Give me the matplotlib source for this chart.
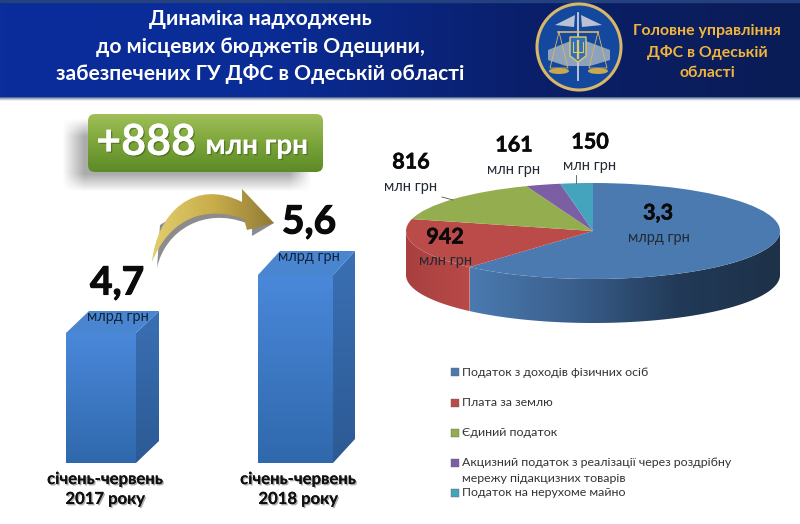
import numpy as np
import matplotlib
matplotlib.use('Agg')
import matplotlib.pyplot as plt
import matplotlib.patheffects as pe
from matplotlib.patches import Polygon, PathPatch, Rectangle, FancyBboxPatch, Ellipse
from matplotlib.path import Path
from matplotlib.colors import LinearSegmentedColormap

plt.rcParams['font.family'] = ['Lato', 'Open Sans', 'DejaVu Sans']

title_lines = ['Динаміка надходжень', 'до місцевих бюджетів Одещини,', 'забезпечених ГУ ДФС в Одеській області']
org_lines = ['Головне управління', 'ДФС в Одеській', 'області']

# bars
periods = ['січень-червень\n2017 року', 'січень-червень\n2018 року']
totals = [4.7, 5.6]
total_labels = ['4,7', '5,6']
bar_unit = 'млрд грн'
delta_label = '+888'
delta_unit = 'млн грн'

# pie
taxes = ['Податок з доходів фізичних осіб', 'Плата за землю', 'Єдиний податок',
         'Акцизний податок з реалізації через роздрібну\nмережу підакцизних товарів',
         'Податок на нерухоме майно']
amounts = [3300, 942, 816, 161, 150]
amount_labels = ['3,3', '942', '816', '161', '150']
amount_units = ['млрд грн', 'млн грн', 'млн грн', 'млн грн', 'млн грн']
pie_colors = ['#4a7ab0', '#bb4b49', '#94ae4f', '#7b5ea3', '#44a3bd']

W, H = 800, 524
fig = plt.figure(figsize=(W / 100, H / 100), dpi=100, facecolor='white')


def px_axes(x0, y0, x1, y1, **kw):
    # axes placed by pixel box, y0 is the top edge
    return fig.add_axes([x0 / W, 1 - y1 / H, (x1 - x0) / W, (y1 - y0) / H], **kw)


def gradient(ax, extent, colors, vertical=False, clip=None, zorder=1):
    cm = LinearSegmentedColormap.from_list('g', colors)
    g = np.linspace(0, 1, 256)
    g = g[:, None] if vertical else g[None, :]
    im = ax.imshow(g, cmap=cm, extent=extent, aspect='auto', zorder=zorder, interpolation='bilinear')
    if clip is not None:
        im.set_clip_path(clip)
    return im


# page layer, in pixels
ax = fig.add_axes([0, 0, 1, 1], zorder=3)
ax.patch.set_visible(False)
ax.axis('off')

# header
gradient(ax, (0, W, 97, 0), ['#0a2d9c', '#0b2c96', '#0a1f6a', '#0a1c55'])
ax.add_patch(Rectangle((0, 0), W, 2, color='#23407f', zorder=2))
gradient(ax, (0, W, 101, 97), ['#33507f', '#b8c2d0', '#ffffff'], vertical=True)

for y, line in zip([19, 47, 74], title_lines):
    ax.text(260, y, line, color='white', fontsize=15.1, fontweight='bold', ha='center', va='center', zorder=5)
for y, line in zip([31, 53, 73], org_lines):
    ax.text(707, y, line, color='#f2b53c', fontsize=11.4, fontweight='bold', ha='center', va='center', zorder=5)

# emblem
gold = '#d9b768'
ax.add_patch(Ellipse((579, 47), 84, 86, fc='#14489f', ec=gold, lw=2.2, zorder=4))
ax.add_patch(Polygon([[548, 50], [578, 38], [610, 50], [610, 60], [590, 66], [566, 66], [548, 60]],
                     fc='#8fa2bb', ec='none', zorder=4))
ax.plot([578, 578], [13, 80], color='#c8cfdb', lw=1.3, zorder=5)
ax.plot([558, 598], [32, 32], color=gold, lw=1.2, zorder=5)
ax.plot([559, 550, 568, 559], [32, 68, 68, 32], color=gold, lw=0.6, zorder=5)
ax.plot([598, 589, 607, 598], [32, 68, 68, 32], color=gold, lw=0.6, zorder=5)
ax.add_patch(Ellipse((559, 71), 20, 6, fc='#c9a94f', zorder=5))
ax.add_patch(Ellipse((598, 71), 20, 6, fc='#c9a94f', zorder=5))
ax.add_patch(Polygon([[575, 15], [555, 25], [574, 27]], fc='#b8c2d2', zorder=5))
ax.add_patch(Polygon([[581, 15], [602, 25], [582, 27]], fc='#b8c2d2', zorder=5))
ax.add_patch(Polygon([[570, 37], [586, 37], [586, 56], [578, 62], [570, 56]], fc='#2f6fc0', ec='#e4c860', lw=1, zorder=6))
ax.plot([578, 578], [41, 58], color='#e4c860', lw=1.6, zorder=6)
ax.plot([573, 573, 583, 583], [42, 52, 52, 42], color='#e4c860', lw=0.8, zorder=6)

# green box with soft shadow
sx, sy = np.meshgrid(np.linspace(62, 312, 250), np.linspace(118, 192, 74))
soft = (np.clip((sx - 62) / 22, 0, 1) * np.clip((312 - sx) / 22, 0, 1)
        * np.clip((sy - 118) / 18, 0, 1) * np.clip((192 - sy) / 18, 0, 1))
shade = np.zeros(sx.shape + (4,))
shade[..., :3] = 0.4
shade[..., 3] = soft * 0.55
ax.imshow(shade, extent=(62, 312, 192, 118), aspect='auto', zorder=2, interpolation='bilinear')
box = FancyBboxPatch((88, 114), 235, 58, boxstyle='round,pad=0,rounding_size=7', fc='none', ec='none', zorder=3)
ax.add_patch(box)
gradient(ax, (88, 323, 172, 114), ['#a0bf58', '#7ba53a', '#5d8a27'], vertical=True, clip=box, zorder=3)
ax.text(146, 142, delta_label, color='white', fontsize=31, fontweight='bold', ha='center', va='center', zorder=5,
        path_effects=[pe.withSimplePatchShadow(offset=(1, -1), shadow_rgbFace='#3f5f1a', alpha=0.6), pe.Normal()])
ax.text(257, 146, delta_unit, color='white', fontsize=20, fontweight='bold', ha='center', va='center', zorder=5,
        path_effects=[pe.withSimplePatchShadow(offset=(1, -1), shadow_rgbFace='#3f5f1a', alpha=0.6), pe.Normal()])

# gold arrow, grey underside first
shadow_verts = [(157, 268), (165, 230), (205, 207), (246, 223), (252, 229), (252, 236), (274, 223),
                (240, 205), (200, 200), (160, 225), (157, 268)]
shadow_codes = [Path.MOVETO, Path.CURVE4, Path.CURVE4, Path.CURVE4, Path.LINETO, Path.LINETO, Path.LINETO,
                Path.LINETO, Path.LINETO, Path.LINETO, Path.LINETO]
ax.add_patch(PathPatch(Path(shadow_verts, shadow_codes), fc='#8c8c8c', ec='none', zorder=2))
arrow_verts = [(152, 262), (157, 212), (195, 178), (242, 202), (242, 189), (274, 223), (247, 230), (244, 219),
               (205, 205), (170, 218), (152, 262)]
arrow_codes = [Path.MOVETO, Path.CURVE4, Path.CURVE4, Path.CURVE4, Path.LINETO, Path.LINETO, Path.LINETO,
               Path.LINETO, Path.CURVE4, Path.CURVE4, Path.CURVE4]
arrow = PathPatch(Path(arrow_verts, arrow_codes), fc='none', ec='none', zorder=3)
ax.add_patch(arrow)
gradient(ax, (150, 275, 265, 188), ['#e2cf70', '#c9ae4a', '#8f7a35'], clip=arrow, zorder=3)

# bars on a cut value axis, 4.7 -> y 333 and 5.6 -> y 275
bar_ax = px_axes(0, 200, 400, 463, zorder=2)
bar_ax.axis('off')
per_unit = (333 - 275) / (totals[1] - totals[0])
bar_ax.set_xlim(0, 400)
lo = totals[0] - (463 - 333) / per_unit
hi = totals[0] + (333 - 200) / per_unit
bar_ax.set_ylim(lo, hi)
bar_x = [101, 295.5]
bar_w = [70, 75]
dx = [23, 22]
dy = [22 / per_unit, 24 / per_unit]
bars = bar_ax.bar(bar_x, totals, bar_w, color='#4a86d8', zorder=2)
for b, d_x, d_y in zip(bars, dx, dy):
    x0, x1, top = b.get_x(), b.get_x() + b.get_width(), b.get_height()
    side = Polygon([[x1, lo], [x1 + d_x, lo + d_y], [x1 + d_x, top + d_y], [x1, top]], fc='none', ec='none', zorder=1)
    bar_ax.add_patch(side)
    gradient(bar_ax, (x1, x1 + d_x, lo, top + d_y), ['#3a70b4', '#2c5a94'], vertical=True, clip=side, zorder=1)
    bar_ax.add_patch(Polygon([[x0, top], [x1, top], [x1 + d_x, top + d_y], [x0 + d_x, top + d_y]],
                             fc='#4a86d0', ec='none', zorder=3))
    gradient(bar_ax, (x0, x1, lo, top), ['#4a88da', '#2f68ac'], vertical=True, clip=b, zorder=3)
bar_ax.set_xlim(0, 400)
bar_ax.set_ylim(lo, hi)

for cx, cy, s in zip([117, 309], [283, 222], total_labels):
    ax.text(cx, cy, s, color='#0a0a0a', fontsize=28, fontweight='bold', ha='center', va='center', zorder=6,
            path_effects=[pe.withStroke(linewidth=0.8, foreground='#0a0a0a')])
for cx, cy in zip([118, 309], [317, 257]):
    ax.text(cx, cy, bar_unit, color='#10243f', fontsize=10.5, ha='center', va='center', zorder=6)
for cx, s in zip([105, 298], periods):
    ax.text(cx, 489, s, color='#111111', fontsize=12, fontweight='bold', ha='center', va='center',
            linespacing=1.3, zorder=6,
            path_effects=[pe.withSimplePatchShadow(offset=(1, -1), shadow_rgbFace='#777777', alpha=0.6), pe.Normal()])

# pie: top face is a squashed pie, wall hangs below it
depth = 44 / 48
pie_ax = px_axes(406, 183, 780, 183 + 48 * (2 + depth), zorder=2)
wedges, _ = pie_ax.pie(amounts, colors=pie_colors, startangle=90, counterclock=False, radius=1,
                       wedgeprops={'linewidth': 0, 'zorder': 3})
pie_ax.set_aspect('auto')


def wall(t0, t1):
    t = np.radians(np.linspace(t0, t1, 80))
    xs, ys = np.cos(t), np.sin(t)
    return np.r_[np.c_[xs, ys], np.c_[xs, ys - depth][::-1]]


# only the first two wedges reach the front half of the ellipse
split = wedges[0].theta1 % 360
split_x = np.cos(np.radians(split))
face0 = Polygon(wall(split, 360), fc='none', ec='none', zorder=1)
pie_ax.add_patch(face0)
gradient(pie_ax, (split_x, 1, -1 - depth, 0), ['#4a7ab0', '#3a5f8c', '#223a58', '#1d3148'], clip=face0, zorder=1)
face1 = Polygon(wall(180, split), fc='none', ec='none', zorder=1)
pie_ax.add_patch(face1)
gradient(pie_ax, (-1, split_x, -1 - depth, 0), ['#a8403f', '#b84a48'], clip=face1, zorder=1)
pie_ax.set_xlim(-1, 1)
pie_ax.set_ylim(-1 - depth, 1)

label_xy = [(658, 213), (445, 237), (411, 162), (514, 145), (590, 142)]
unit_xy = [(659, 238), (446, 261), (411, 187), (514, 170), (590, 166)]
for (lx, ly), s in zip(label_xy, amount_labels):
    ax.text(lx, ly, s, color='#0a0a0a', fontsize=15.5, fontweight='bold', ha='center', va='center', zorder=6,
            path_effects=[pe.withStroke(linewidth=0.4, foreground='#0a0a0a')])
for (ux, uy), s in zip(unit_xy, amount_units):
    ax.text(ux, uy, s, color='#222a35', fontsize=10.5, ha='center', va='center', zorder=6)
ax.plot([442, 453], [197, 200], color='#555555', lw=0.6, zorder=5)
ax.plot([576, 576], [175, 183], color='#555555', lw=0.6, zorder=5)

# legend
legend_y = [372, 403, 433, 463, 493]
for name, col, y in zip(taxes, pie_colors, legend_y):
    ax.add_patch(Rectangle((451, y - 4), 8, 8, fc=col, ec='#666666', lw=0.3, zorder=5))
    if '\n' in name:
        first, second = name.split('\n')
        ax.text(462, y, first, fontsize=8.9, color='#333333', va='center', zorder=5)
        ax.text(462, y + 16, second, fontsize=8.9, color='#333333', va='center', zorder=5)
    else:
        ax.text(462, y, name, fontsize=8.9, color='#333333', va='center', zorder=5)

ax.set_xlim(0, W)
ax.set_ylim(H, 0)

fig.savefig('out.png', dpi=100)
